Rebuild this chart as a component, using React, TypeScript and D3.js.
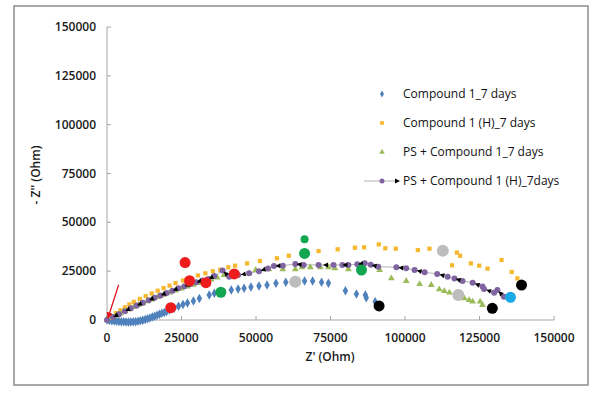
import React from "react";
import * as d3 from "d3";

// Nyquist data: [Z', -Z'']
const compound1: [number, number][] = [
  [0, 0], [800, -200], [1600, -400], [2400, -550], [3200, -700], [4000, -800], [4800, -900],
  [5600, -950], [6400, -1000], [7200, -1000], [8000, -1000], [8800, -950], [9600, -850],
  [10400, -650], [11200, -400], [12000, -100], [12800, 250], [13600, 650], [14400, 1050],
  [15200, 1500], [16000, 1950], [16800, 2400], [17600, 2900], [18400, 3400], [19200, 3900],
  [20000, 4400], [21000, 5100], [22500, 6000], [24000, 7000], [25500, 7900], [27000, 8700],
  [29000, 9700], [31000, 11000], [34300, 12800], [36000, 13700], [41700, 15400], [44000, 15900],
  [46000, 16200], [48300, 16900], [51000, 17400], [53700, 17900], [56700, 18800], [60000, 19300],
  [66300, 20000], [69000, 20000], [72000, 19300], [74300, 18800], [80000, 15000], [83700, 13300],
  [86700, 12800], [87000, 11400], [90000, 9400],
];

const compound1H: [number, number][] = [
  [0, 0], [1500, 1800], [3000, 3500], [4500, 5000], [6000, 6500], [7500, 8000], [9000, 9300],
  [11000, 10800], [13000, 12200], [15000, 13600], [17000, 15000], [19000, 16300], [21000, 17600],
  [23000, 18900], [25500, 20200], [28000, 21500], [30500, 22800], [33000, 23900], [35500, 25000],
  [38000, 25700], [40700, 27000], [43000, 27800], [47000, 29000], [51300, 30200], [57000, 31600],
  [61000, 32900], [71000, 35300], [77400, 36200], [83200, 37000], [86300, 37200], [91200, 38700],
  [93400, 36700], [96900, 36500], [104300, 35800], [108200, 36500], [115800, 28000],
  [117400, 34500], [118500, 32900], [122100, 29000], [124900, 27800], [127700, 26300],
  [132400, 30700], [135800, 24600], [137700, 21300],
];

const psCompound1: [number, number][] = [
  [0, 0], [1500, 1000], [3000, 2200], [4500, 3300], [6000, 4400], [7500, 5500], [9000, 6600],
  [10500, 7600], [12000, 8600], [13500, 9600], [15000, 10500], [17000, 11700], [19000, 12900],
  [21000, 14000], [23000, 15100], [25000, 16100], [27000, 17100], [29000, 18000], [31000, 18900],
  [33000, 19800], [35000, 20700], [37000, 21700], [39300, 23000], [43000, 23500], [47700, 23900],
  [49900, 25600], [54300, 26000], [59000, 26000], [63200, 26000], [65400, 27000], [68200, 27000],
  [71600, 27000], [74300, 27000], [76500, 26500], [81000, 26000], [85400, 25600], [91500, 25600],
  [95400, 21300], [100400, 20000], [104900, 18400], [108800, 17900], [111500, 15700],
  [113200, 14800], [114900, 14000], [117900, 12800], [119900, 11100], [121500, 10200],
  [122700, 9400], [125200, 9400], [126000, 7700],
];

const psCompound1H: [number, number][] = [
  [0, 0], [2000, 1500], [4000, 3000], [6000, 4500], [8000, 6000], [10000, 7400], [12000, 8800],
  [14000, 10100], [16000, 11400], [18000, 12600], [20000, 13800], [22000, 15000], [24000, 16200],
  [26000, 17300], [28000, 18400], [30000, 19300], [32000, 20200], [34000, 21000], [36000, 22500],
  [38800, 25300], [41000, 22200], [44000, 23000], [47700, 23900], [51000, 25000], [54000, 26400],
  [56000, 27600], [59000, 27800], [63200, 28700], [66000, 28200], [71000, 28200], [76000, 28200],
  [79000, 28200], [81000, 28200], [84000, 28500], [86500, 29000], [88500, 28300], [91000, 27300],
  [97100, 27000], [100400, 26500], [103200, 25600], [106600, 24400], [110800, 23600],
  [114300, 22200], [116600, 21300], [119300, 20000], [122700, 19100], [126000, 17100],
  [126500, 15900], [129900, 14000], [131000, 15400], [133200, 11900], [135000, 11500],
];

// highlighted points added on top of the plot
const redMarks: [number, number][] = [[26200, 29400], [27700, 20100], [33200, 19100], [42700, 23600], [21400, 6300]];
const greenMarks: [number, number][] = [[38200, 14200], [66300, 34100], [85400, 25600]];
const greenSmall: [number, number][] = [[66300, 41300]];
const grayMarks: [number, number][] = [[63200, 19600], [112700, 35500], [117900, 12800]];
const blackMarks: [number, number][] = [[91300, 7200], [129300, 6000], [139100, 17900]];
const cyanMarks: [number, number][] = [[135400, 11600]];
const arrowFrom: [number, number] = [3900, 18000];
const arrowTo: [number, number] = [300, 900];

const ticks = [0, 25000, 50000, 75000, 100000, 125000, 150000];
const legendLabels = [
  "Compound 1_7 days",
  "Compound 1 (H)_7 days",
  "PS + Compound 1_7 days",
  "PS + Compound 1 (H)_7days",
];

const BLUE = "#4F81BD";
const GOLD = "#F5B82E";
const GREEN = "#9BBB59";
const PURPLE = "#8064A2";
const AXIS = "#a6a6a6";
const FONT = "'Open Sans', sans-serif";

export default function App() {
  const width = 600;
  const height = 394;
  const x = d3.scaleLinear().domain([0, 150000]).range([107, 554]);
  const y = d3.scaleLinear().domain([0, 150000]).range([320, 27]);

  const diamond = d3.symbol(d3.symbolDiamond, 26)()!;
  const square = d3.symbol(d3.symbolSquare, 18)()!;
  const triangle = d3.symbol(d3.symbolTriangle, 20)()!;
  const line = d3.line<[number, number]>().x((d) => x(d[0])).y((d) => y(d[1]));

  // little black arrowheads on every other segment of the last series
  const arrows = psCompound1H.slice(1).map((p, i) => {
    const q = psCompound1H[i];
    const mx = (x(p[0]) + x(q[0])) / 2;
    const my = (y(p[1]) + y(q[1])) / 2;
    const ang = (Math.atan2(y(q[1]) - y(p[1]), x(q[0]) - x(p[0])) * 180) / Math.PI;
    return { mx, my, ang, show: i % 2 === 1 };
  });

  const big = (pts: [number, number][], fill: string, r: number) =>
    pts.map((d, i) => <circle key={fill + i} cx={x(d[0])} cy={y(d[1])} r={r} fill={fill} />);

  return (
    <svg width={width} height={height} style={{ position: "absolute", left: 0, top: 0, background: "#fff" }}>
      <defs>
        <marker id="redhead" viewBox="0 0 10 10" refX="9" refY="5" markerWidth="5" markerHeight="5" orient="auto">
          <path d="M0,0L10,5L0,10z" fill="#e3141b" />
        </marker>
      </defs>
      <rect x={14} y={6} width={574} height={379} fill="#fff" stroke="#8c8c8c" strokeWidth={1.5} />

      {/* axes */}
      <g stroke={AXIS} strokeWidth={1}>
        <line x1={x(0)} x2={x(0)} y1={y(0)} y2={y(150000)} />
        <line x1={x(0)} x2={x(150000)} y1={y(0)} y2={y(0)} />
        {ticks.map((t) => (
          <line key={"yt" + t} x1={x(0)} x2={x(0) + 4} y1={y(t)} y2={y(t)} />
        ))}
        {ticks.map((t) => (
          <line key={"xt" + t} x1={x(t)} x2={x(t)} y1={y(0)} y2={y(0) - 4} />
        ))}
      </g>
      <g fontFamily={FONT} fontSize={12} fontWeight={600} fill="#1a1a1a">
        {ticks.map((t) => (
          <text key={"yl" + t} x={x(0) - 11} y={y(t) + 4} textAnchor="end">{t}</text>
        ))}
        {ticks.map((t) => (
          <text key={"xl" + t} x={x(t)} y={y(0) + 22} textAnchor="middle">{t}</text>
        ))}
        <text x={330} y={361} textAnchor="middle">Z' (Ohm)</text>
        <text transform="translate(40,175) rotate(-90)" textAnchor="middle">- Z'' (Ohm)</text>
      </g>

      {/* series */}
      <g>
        {compound1.map((d, i) => (
          <path key={"a" + i} d={diamond} transform={`translate(${x(d[0])},${y(d[1])})`} fill={BLUE} />
        ))}
        {compound1H.map((d, i) => (
          <path key={"b" + i} d={square} transform={`translate(${x(d[0])},${y(d[1])})`} fill={GOLD} />
        ))}
        <path d={line(psCompound1H)!} fill="none" stroke="#a0a0a0" strokeWidth={0.8} />
        {psCompound1.map((d, i) => (
          <path key={"c" + i} d={triangle} transform={`translate(${x(d[0])},${y(d[1])})`} fill={GREEN} />
        ))}
        {psCompound1H.map((d, i) => (
          <circle key={"d" + i} cx={x(d[0])} cy={y(d[1])} r={3} fill={PURPLE} />
        ))}
        {arrows.filter((a) => a.show).map((a, i) => (
          <path key={"ar" + i} d="M3,0L-2,-2.5L-2,2.5z" fill="#000"
            transform={`translate(${a.mx},${a.my}) rotate(${a.ang})`} />
        ))}
      </g>

      {/* highlights */}
      {big(redMarks, "#ee1c1c", 5.5)}
      {big(greenMarks, "#12a650", 5.5)}
      {big(greenSmall, "#12a650", 4)}
      {big(grayMarks, "#bdbdbd", 6)}
      {big(blackMarks, "#000", 5.5)}
      {big(cyanMarks, "#19a9e6", 5.5)}
      <line x1={x(arrowFrom[0])} y1={y(arrowFrom[1])} x2={x(arrowTo[0])} y2={y(arrowTo[1])}
        stroke="#e3141b" strokeWidth={1.3} markerEnd="url(#redhead)" />

      {/* legend */}
      <g fontFamily={FONT} fontSize={12} fontWeight={500} fill="#111">
        {legendLabels.map((l, i) => {
          const ly = 94 + i * 29;
          return (
            <g key={l}>
              {i === 0 && <path d={d3.symbol(d3.symbolDiamond, 14)()!} transform={`translate(382,${ly})`} fill={BLUE} />}
              {i === 1 && <path d={d3.symbol(d3.symbolSquare, 14)()!} transform={`translate(382,${ly})`} fill={GOLD} />}
              {i === 2 && <path d={d3.symbol(d3.symbolTriangle, 14)()!} transform={`translate(382,${ly})`} fill={GREEN} />}
              {i === 3 && (
                <g>
                  <line x1={364} x2={396} y1={ly} y2={ly} stroke="#a0a0a0" strokeWidth={0.8} />
                  <circle cx={382} cy={ly} r={2.5} fill={PURPLE} />
                  <path d="M3,0L-2,-2.5L-2,2.5z" transform={`translate(397,${ly})`} fill="#000" />
                </g>
              )}
              <text x={403} y={ly + 4}>{l}</text>
            </g>
          );
        })}
      </g>
    </svg>
  );
}
